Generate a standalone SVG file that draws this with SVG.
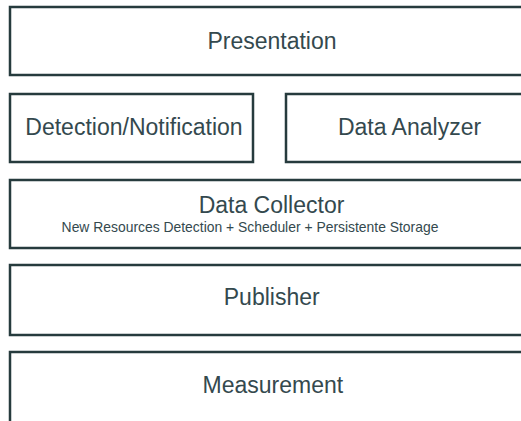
<svg xmlns="http://www.w3.org/2000/svg" width="521" height="421" viewBox="0 0 521 421">
<style>
.box{fill:#ffffff;stroke:#263b3d;stroke-width:2.5}
.lbl{font-family:"Liberation Sans",Arial,Helvetica,sans-serif;font-size:23px;fill:#34494e;text-anchor:middle}
.sub{font-family:"Liberation Sans",Arial,Helvetica,sans-serif;font-size:13.9px;fill:#34494e;text-anchor:middle}
</style>
<rect x="0" y="0" width="521" height="421" fill="#ffffff"/>
<g id="presentation">
<rect class="box" x="10" y="7" width="530" height="68"/>
<text class="lbl" x="272" y="49">Presentation</text>
</g>
<g id="detection-notification">
<rect class="box" x="10" y="94" width="243" height="68"/>
<text class="lbl" x="134" y="135">Detection/Notification</text>
</g>
<g id="data-analyzer">
<rect class="box" x="286" y="94" width="250" height="68"/>
<text class="lbl" x="409.5" y="135">Data Analyzer</text>
</g>
<g id="data-collector">
<rect class="box" x="10" y="180" width="530" height="68"/>
<text class="lbl" x="271.5" y="213">Data Collector</text>
<text class="sub" x="250" y="232">New Resources Detection + Scheduler + Persistente Storage</text>
</g>
<g id="publisher">
<rect class="box" x="10" y="265" width="530" height="70"/>
<text class="lbl" x="271.7" y="305">Publisher</text>
</g>
<g id="measurement">
<rect class="box" x="10" y="352" width="530" height="90"/>
<text class="lbl" x="272.8" y="393">Measurement</text>
</g>
<g id="connectors"/>
</svg>
